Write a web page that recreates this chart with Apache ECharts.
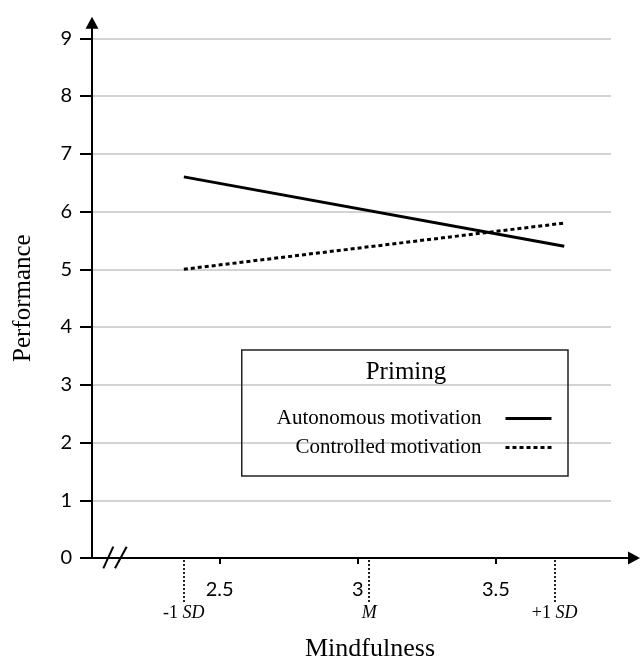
<!DOCTYPE html>
<html><head><meta charset="utf-8">
<script src="https://cdn.jsdelivr.net/npm/echarts@6/dist/echarts.min.js"></script>
<style>html,body{margin:0;padding:0;background:#fff}#c{width:640px;height:662px}</style>
</head><body><div id="c"></div>
<script>
// ---- data ----
const xEnds = [2.37, 3.745];
const autonomous = [6.6, 5.4];
const controlled = [5.0, 5.8];
const seriesNames = ['Autonomous motivation', 'Controlled motivation'];
const xTickValues = [2.5, 3, 3.5];
const sdMarkers = [2.374, 3.04, 3.707];
const sdLabels = ['-1 {i|SD}', '{i|M}', '+1 {i|SD}'];
const yMin = 0, yMax = 9, yInterval = 1;
const xMin = 2.038, xMaxGrid = 3.914, xMaxAxis = 4.0, yMaxAxis = 9.27;

const serif = 'Liberation Serif';
const sans = 'Lato';

const chart = echarts.init(document.getElementById('c'), null, {renderer: 'canvas'});
chart.setOption({
  animation: false,
  backgroundColor: '#fff',
  title: [
    {text: 'Priming', left: 406, top: 360, textAlign: 'center', padding: 0,
     textStyle: {fontFamily: serif, fontSize: 25, fontWeight: 'normal', color: '#000'}},
    {text: 'Mindfulness', left: 370, top: 636, textAlign: 'center', padding: 0,
     textStyle: {fontFamily: serif, fontSize: 26, fontWeight: 'normal', color: '#000'}}
  ],
  legend: {
    orient: 'vertical', align: 'right', right: 72, top: 350,
    padding: [58, 15, 18, 35], itemWidth: 46, itemHeight: 14, itemGap: 8,
    borderColor: '#222', borderWidth: 1.5, selectedMode: false,
    itemStyle: {opacity: 0},
    lineStyle: {width: 3},
    data: seriesNames,
    textStyle: {fontFamily: serif, fontSize: 21, color: '#000', padding: [0, 19, 0, 0]}
  },
  grid: [
    {left: 92, right: 29, top: 38.3, bottom: 104, outerBoundsMode: 'none', containLabel: false},
    {left: 92, right: 6, top: 22.7, bottom: 104, outerBoundsMode: 'none', containLabel: false},
    {left: 92, right: 29, top: 558, height: 44, outerBoundsMode: 'none', containLabel: false}
  ],
  xAxis: [
    {gridIndex: 0, type: 'value', min: xMin, max: xMaxGrid, show: false},
    {gridIndex: 1, type: 'value', min: xMin, max: xMaxAxis,
     axisLine: {show: true, onZero: false, symbol: ['none', 'triangle'], symbolSize: [13, 12],
                lineStyle: {color: '#000', width: 2}},
     axisTick: {show: true, customValues: xTickValues, length: 6, lineStyle: {color: '#000', width: 2}},
     axisLabel: {show: true, customValues: xTickValues, margin: 22, fontSize: 20, fontFamily: sans, color: '#000'},
     splitLine: {show: false}},
    {gridIndex: 2, type: 'value', min: xMin, max: xMaxGrid, show: false}
  ],
  yAxis: [
    {gridIndex: 0, type: 'value', min: yMin, max: yMax, interval: yInterval,
     axisLine: {show: false},
     axisTick: {show: true, length: 12, lineStyle: {color: '#000', width: 2}},
     axisLabel: {margin: 20, fontSize: 20, fontFamily: sans, color: '#000'},
     splitLine: {show: true, lineStyle: {color: '#c4c4c4', width: 1.5}},
     name: 'Performance', nameLocation: 'middle', nameGap: 56, nameRotate: 90,
     nameTextStyle: {fontFamily: serif, fontSize: 25, color: '#000'}},
    {gridIndex: 1, type: 'value', min: yMin, max: yMaxAxis,
     axisLine: {show: true, onZero: false, symbol: ['none', 'triangle'], symbolSize: [13, 12],
                lineStyle: {color: '#000', width: 2}},
     axisTick: {show: false}, axisLabel: {show: false}, splitLine: {show: false}},
    {gridIndex: 2, type: 'value', min: 0, max: 1, show: false}
  ],
  series: [
    {type: 'line', name: seriesNames[0], xAxisIndex: 0, yAxisIndex: 0, symbol: 'none',
     data: xEnds.map((x, i) => [x, autonomous[i]]),
     lineStyle: {color: '#000', width: 3}, itemStyle: {color: '#000'}},
    {type: 'line', name: seriesNames[1], xAxisIndex: 0, yAxisIndex: 0, symbol: 'none',
     data: xEnds.map((x, i) => [x, controlled[i]]),
     lineStyle: {color: '#000', width: 3, type: [4, 3]}, itemStyle: {color: '#000'}},
    {type: 'line', name: 'markers', xAxisIndex: 2, yAxisIndex: 2, data: [], symbol: 'none',
     markLine: {
       silent: true, symbol: ['none', 'none'], animation: false,
       lineStyle: {color: '#222', width: 2, type: [2, 2]},
       label: {show: true, position: 'start', distance: 2, color: '#000',
               fontFamily: serif, fontSize: 18,
               rich: {i: {fontStyle: 'italic', fontFamily: serif, fontSize: 18, color: '#000'}}},
       data: sdMarkers.map((v, i) => ({xAxis: v, label: {formatter: sdLabels[i]}}))
     }}
  ],
  graphic: [
    {type: 'line', shape: {x1: 103.3, y1: 568.3, x2: 113.3, y2: 546.7}, style: {stroke: '#000', lineWidth: 2}},
    {type: 'line', shape: {x1: 115, y1: 568.3, x2: 126.7, y2: 546.7}, style: {stroke: '#000', lineWidth: 2}}
  ]
});
</script>
</body></html>
